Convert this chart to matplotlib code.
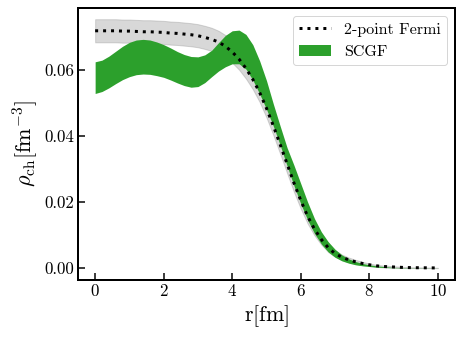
import matplotlib
matplotlib.use("Agg")
import matplotlib.pyplot as plt
import numpy as np

plt.rcParams['font.family'] = 'serif'
plt.rcParams['font.serif'] = ['cmr10']
plt.rcParams['mathtext.fontset'] = 'cm'
plt.rcParams['axes.formatter.use_mathtext'] = True

# radius grid [fm]
r = np.linspace(0, 10, 51)

# 2-point Fermi fit (central value) and its band half-width
fermi = [0.0719, 0.0719, 0.0719, 0.0719, 0.0718, 0.0718, 0.0717, 0.0716, 0.0716, 0.0715,
         0.0714, 0.0712, 0.0711, 0.0709, 0.0707, 0.0704, 0.0699, 0.0693, 0.0685, 0.0672,
         0.0655, 0.0633, 0.0605, 0.0572, 0.0532, 0.0484, 0.0431, 0.0374, 0.0316, 0.0258,
         0.0205, 0.0157, 0.0118, 0.0087, 0.0062, 0.0044, 0.0033, 0.0025, 0.0019, 0.0014,
         0.0010, 0.0007, 0.0005, 0.0004, 0.0003, 0.0002, 0.00015, 0.00012, 0.0001, 0.00007,
         0.00005]
fermi_err = [0.0035, 0.0035, 0.0035, 0.0035, 0.0035, 0.0035, 0.0035, 0.0035, 0.0035, 0.0035,
             0.0035, 0.0035, 0.0035, 0.0035, 0.0035, 0.0035, 0.0035, 0.0035, 0.0034, 0.0034,
             0.0033, 0.0032, 0.0031, 0.0030, 0.0029, 0.0028, 0.0028, 0.0028, 0.0028, 0.0027,
             0.0025, 0.0022, 0.0019, 0.0016, 0.0013, 0.0010, 0.0008, 0.0007, 0.0006, 0.0005,
             0.0004, 0.0003, 0.0003, 0.00025, 0.0002, 0.00015, 0.00012, 0.0001, 0.0001, 0.00008,
             0.00006]

# SCGF band (upper / lower edge)
scgf_hi = [0.0625, 0.0630, 0.0642, 0.0657, 0.0672, 0.0684, 0.0691, 0.0693, 0.0691, 0.0685,
           0.0677, 0.0667, 0.0656, 0.0647, 0.0641, 0.0640, 0.0646, 0.0660, 0.0683, 0.0705,
           0.0719, 0.0721, 0.0708, 0.0677, 0.0628, 0.0568, 0.0497, 0.0430, 0.0365, 0.0312,
           0.0256, 0.0200, 0.0150, 0.0110, 0.0080, 0.0057, 0.0040, 0.0028, 0.0020, 0.0014,
           0.0010, 0.0007, 0.0005, 0.0003, 0.0002, 0.00015, 0.0001, 0.00008, 0.00006, 0.00004,
           0.00003]
scgf_lo = [0.0529, 0.0535, 0.0546, 0.0559, 0.0571, 0.0580, 0.0586, 0.0588, 0.0587, 0.0583,
           0.0578, 0.0570, 0.0561, 0.0553, 0.0548, 0.0550, 0.0562, 0.0580, 0.0597, 0.0610,
           0.0619, 0.0619, 0.0603, 0.0570, 0.0528, 0.0481, 0.0430, 0.0372, 0.0310, 0.0250,
           0.0195, 0.0146, 0.0105, 0.0073, 0.0049, 0.0033, 0.0022, 0.0015, 0.0010, 0.0007,
           0.0005, 0.0003, 0.0002, 0.00013, 0.00009, 0.00006, 0.00004, 0.00003, 0.00002, 0.00001,
           0.00001]

fermi = np.array(fermi)
fermi_err = np.array(fermi_err)

fig = plt.figure(figsize=(463 / 72, 338 / 72), dpi=72)
ax = fig.add_axes([78 / 463, 1 - 280 / 338, (455 - 78) / 463, (280 - 8) / 338])

ax.fill_between(r, fermi - fermi_err, fermi + fermi_err, color='gray', alpha=0.3, zorder=1)
band = ax.fill_between(r, scgf_lo, scgf_hi, color='#2ca02c', lw=0, zorder=2)
line, = ax.plot(r, fermi, ':', color='black', lw=3, zorder=3)

ax.set_xlim(-0.5, 10.5)
ax.set_ylim(-0.0036, 0.0788)
ax.set_xticks([0, 2, 4, 6, 8, 10])
ax.set_yticks([0.00, 0.02, 0.04, 0.06])
ax.set_yticklabels(['0.00', '0.02', '0.04', '0.06'])

ax.set_xlabel(r'r$[\rm fm]$', fontsize=22)
ax.set_ylabel(r'$\rho_{\rm ch}[\rm fm^{-3}]$', fontsize=22)

ax.tick_params(direction='in', length=7, width=1.5, labelsize=17, top=False, right=False)
for s in ax.spines.values():
    s.set_linewidth(2)

ax.legend([line, band], ['2-point Fermi', 'SCGF'], loc='upper right', fontsize=16,
          handlelength=2.0, fancybox=True)

fig.savefig('out.png', dpi=72)
